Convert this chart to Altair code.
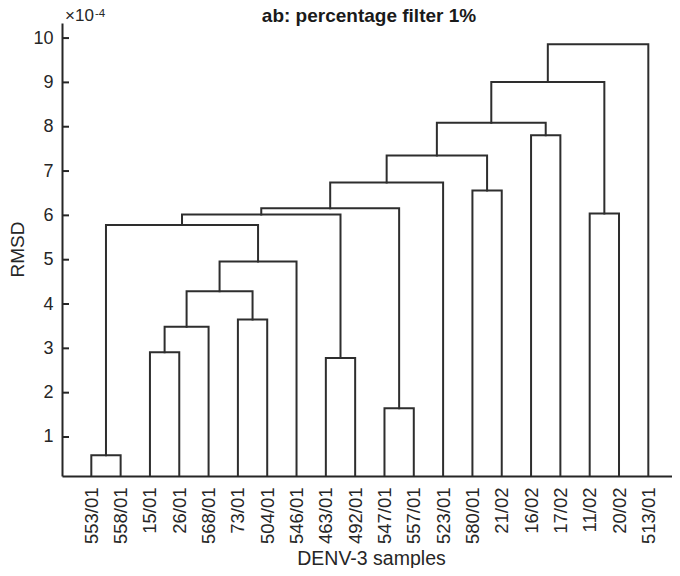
import json
import altair as alt
import pandas as pd

# Leaves in display order
leaf_labels = ["553/01", "558/01", "15/01", "26/01", "568/01", "73/01", "504/01",
               "546/01", "463/01", "492/01", "547/01", "557/01", "523/01", "580/01",
               "21/02", "16/02", "17/02", "11/02", "20/02", "513/01"]

# Linkage: node ids 0..19 are leaves, 20.. are links in this order
link_left = [0, 2, 21, 5, 22, 24, 20, 8, 26, 10, 28, 30, 13, 31, 15, 33, 17, 35, 37]
link_right = [1, 3, 4, 6, 23, 7, 25, 9, 27, 11, 29, 12, 14, 32, 16, 34, 18, 36, 19]
link_height = [0.59, 2.91, 3.49, 3.65, 4.29, 4.96, 5.78, 2.78, 6.02, 1.65,
               6.16, 6.74, 6.56, 7.35, 7.81, 8.09, 6.04, 9.01, 9.86]

y_ticks = [1, 2, 3, 4, 5, 6, 7, 8, 9, 10]

# Build dendrogram U-shapes from the linkage
n = len(leaf_labels)
node_x = {i: i + 1 for i in range(n)}
node_y = {i: 0.0 for i in range(n)}
rows = []
for k, (a, b, h) in enumerate(zip(link_left, link_right, link_height)):
    nid = n + k
    xa, ya, xb, yb = node_x[a], node_y[a], node_x[b], node_y[b]
    pts = [(xa, ya), (xa, h), (xb, h), (xb, yb)]
    for o, (px, py) in enumerate(pts):
        rows.append({"link": k, "o": o, "x": px, "y": py})
    node_x[nid] = (xa + xb) / 2
    node_y[nid] = h
df = pd.DataFrame(rows)

FONT = "Liberation Sans"
COL = "#262626"
LINE_COL = "#2e2e2e"
PX_PER_LEAF = 29.316
WIDTH = 610
HEIGHT = 453
xdom = [0, WIDTH / PX_PER_LEAF]
ydom = [0.12, 10.34]

label_expr = json.dumps(leaf_labels) + "[datum.value - 1]"

xscale = alt.Scale(domain=xdom, nice=False, zero=False)
yscale = alt.Scale(domain=ydom, nice=False, zero=False)

lines = alt.Chart(df).mark_line(
    color=LINE_COL, strokeWidth=2, clip=True, strokeJoin="miter", strokeCap="square"
).encode(
    x=alt.X("x:Q", scale=xscale, axis=alt.Axis(
        values=list(range(1, n + 1)), labelExpr=label_expr, ticks=False, grid=False,
        labelAngle=270, labelAlign="right", labelBaseline="middle", labelPadding=11,
        labelFontSize=18.5, labelFont=FONT, labelColor=COL, labelOverlap=False,
        labelFlush=False, labelBound=False,
        domainColor=COL, domainWidth=2,
        title="DENV-3 samples", titleFont=FONT, titleFontSize=19.5, titleFontWeight="normal",
        titleColor=COL, titleX=309, titleY=88, titleAlign="center", titleBaseline="alphabetic",
    )),
    y=alt.Y("y:Q", scale=yscale, axis=alt.Axis(
        values=y_ticks, format="d", ticks=False, grid=False, labelPadding=9,
        labelFontSize=18, labelFont=FONT, labelColor=COL,
        domainColor=COL, domainWidth=2,
        title="RMSD", titleFont=FONT, titleFontSize=19, titleFontWeight="normal",
        titleColor=COL, titleAngle=-90, titleX=-45, titleY=226, titleAlign="center",
        titleBaseline="middle",
    )),
    detail="link:N",
    order="o:Q",
)

tick_df = pd.DataFrame({"v": y_ticks})
ticks = alt.Chart(tick_df).mark_rule(color=COL, strokeWidth=2).encode(
    x=alt.value(0), x2=alt.value(7), y=alt.Y("v:Q", scale=yscale)
)

exp_df = pd.DataFrame({"t": ["×10"]})
exp_main = alt.Chart(exp_df).mark_text(
    font=FONT, fontSize=17, color=COL, align="left", baseline="alphabetic"
).encode(x=alt.value(3), y=alt.value(-2), text="t:N")
exp_sup_df = pd.DataFrame({"t": ["-4"]})
exp_sup = alt.Chart(exp_sup_df).mark_text(
    font=FONT, fontSize=11.5, color=COL, align="left", baseline="alphabetic"
).encode(x=alt.value(33), y=alt.value(-6.5), text="t:N")

title_df = pd.DataFrame({"t": ["ab: percentage filter 1%"]})
title = alt.Chart(title_df).mark_text(
    font=FONT, fontSize=19, fontWeight="bold", color="#1a1a1a", align="center",
    baseline="alphabetic"
).encode(x=alt.value(307), y=alt.value(-1), text="t:N")

chart = alt.layer(lines, ticks, exp_main, exp_sup, title).properties(
    width=WIDTH, height=HEIGHT,
    autosize=alt.AutoSizeParams(type="none"),
    padding={"left": 54, "top": 15, "right": 0, "bottom": 92},
    background="white",
).configure_view(strokeWidth=0)

chart.save("out.html", embed_options={"renderer": "svg", "actions": False})
